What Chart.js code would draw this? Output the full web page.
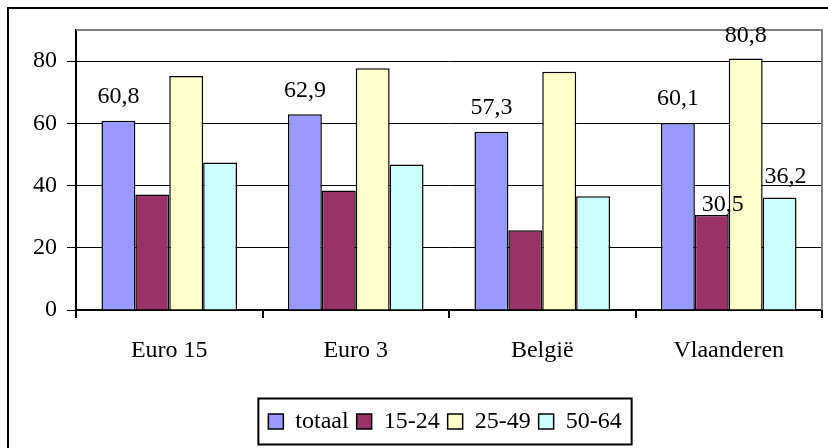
<!DOCTYPE html>
<html>
<head>
<meta charset="utf-8">
<script src="https://cdn.jsdelivr.net/npm/chart.js@4/dist/chart.umd.min.js"></script>
<style>
html,body{margin:0;padding:0;background:#fff;}
#wrap{position:relative;width:828px;height:448px;}
</style>
</head>
<body>
<div id="wrap"><canvas id="c" width="828" height="448"></canvas></div>
<script>
const categories = ['Euro 15', 'Euro 3', 'België', 'Vlaanderen'];
const seriesNames = ['totaal', '15-24', '25-49', '50-64'];
const totaal = [60.8, 62.9, 57.3, 60.1];
const age15_24 = [37.1, 38.4, 25.6, 30.5];
const age25_49 = [75.2, 77.7, 76.6, 80.8];
const age50_64 = [47.4, 46.8, 36.6, 36.2];
const yTicks = [0, 20, 40, 60, 80];
// which values carry a data label: [series index, category index]
const labelled = [[0,0],[0,1],[0,2],[0,3],[1,3],[2,3],[3,3]];

const colors = ['#9999FF', '#993366', '#FFFFCC', '#CCFFFF'];
const seriesValues = [totaal, age15_24, age25_49, age50_64];
const FONT = {family: '"Liberation Serif", "Times New Roman", serif', size: 24};

const framePlugin = {
  id: 'frame',
  afterLayout(chart) {
    const lg = chart.legend;
    if (lg) { lg.left += 34; lg.right += 34; lg.top += 3; lg.bottom += 3; }
  },
  beforeDraw(chart) {
    const ctx = chart.ctx;
    ctx.save();
    ctx.fillStyle = '#fff';
    ctx.fillRect(0, 0, chart.width, chart.height);
    ctx.fillStyle = '#000';
    ctx.fillRect(7, 7, 2, chart.height - 7);
    ctx.fillRect(7, 7, chart.width - 7, 2);
    ctx.restore();
  },
  beforeDatasetsDraw(chart) {
    const a = chart.chartArea, ctx = chart.ctx;
    ctx.save();
    ctx.strokeStyle = '#808080';
    ctx.lineWidth = 2;
    ctx.beginPath();
    ctx.moveTo(a.left, a.top);
    ctx.lineTo(a.right, a.top);
    ctx.lineTo(a.right, a.bottom);
    ctx.stroke();
    ctx.restore();
  },
  afterDraw(chart) {
    const lg = chart.legend, ctx = chart.ctx;
    if (!lg || !lg.legendHitBoxes || !lg.legendHitBoxes.length) return;
    const hb = lg.legendHitBoxes;
    const left = hb[0].left - 10;
    const last = hb[hb.length - 1];
    const right = last.left + last.width + 10;
    const cy = hb[0].top + hb[0].height / 2;
    ctx.save();
    ctx.strokeStyle = '#000';
    ctx.lineWidth = 2;
    ctx.strokeRect(left, cy - 23, right - left, 46);
    ctx.restore();
  }
};

const labelPlugin = {
  id: 'valueLabels',
  afterDatasetsDraw(chart, args, opts) {
    const ctx = chart.ctx;
    ctx.save();
    ctx.font = '24px "Liberation Serif", "Times New Roman", serif';
    ctx.fillStyle = '#000';
    ctx.textAlign = 'center';
    ctx.textBaseline = 'alphabetic';
    labelled.forEach(([d, i]) => {
      const bar = chart.getDatasetMeta(d).data[i];
      const v = chart.data.datasets[d].data[i];
      const key = d + '-' + i;
      const n = (opts.nudge && opts.nudge[key]) || [0, 0];
      ctx.fillText(v.toFixed(1).replace('.', ','), bar.x + n[0], bar.y - opts.gap + n[1]);
    });
    ctx.restore();
  }
};

new Chart(document.getElementById('c'), {
  type: 'bar',
  data: {
    labels: categories,
    datasets: seriesNames.map((name, k) => ({
      label: name,
      data: seriesValues[k],
      backgroundColor: colors[k],
      borderColor: '#000',
      borderWidth: 1.5,
      categoryPercentage: 0.727,
      barPercentage: 1
    }))
  },
  options: {
    responsive: false,
    animation: false,
    layout: {padding: {left: 0, right: 6, top: 30, bottom: 7.5}},
    plugins: {
      legend: {
        position: 'bottom',
        labels: {
          font: FONT,
          color: '#000',
          boxWidth: 15,
          boxHeight: 15,
          padding: 8
        }
      },
      tooltip: {enabled: false},
      valueLabels: {
        gap: 18,
        nudge: {'1-3': [11, 14], '3-3': [6, 4], '2-3': [0, 1], '0-1': [0, 1]}
      }
    },
    scales: {
      x: {
        grid: {display: true, drawOnChartArea: false, tickLength: 8, color: '#000', lineWidth: 2, offset: true},
        border: {color: '#000', width: 2},
        ticks: {font: FONT, color: '#000', padding: 18, maxRotation: 0},
        afterFit: s => { s.height = 88.5; }
      },
      y: {
        min: 0,
        max: 90,
        grid: {color: '#000', lineWidth: 1, tickLength: 9, tickColor: '#000'},
        border: {color: '#000', width: 2},
        ticks: {font: FONT, color: '#000', stepSize: 20, padding: 10},
        afterBuildTicks: s => { s.ticks = s.ticks.filter(t => yTicks.includes(t.value)); },
        afterFit: s => { s.width = 76; }
      }
    }
  },
  plugins: [framePlugin, labelPlugin]
});
</script>
</body>
</html>
